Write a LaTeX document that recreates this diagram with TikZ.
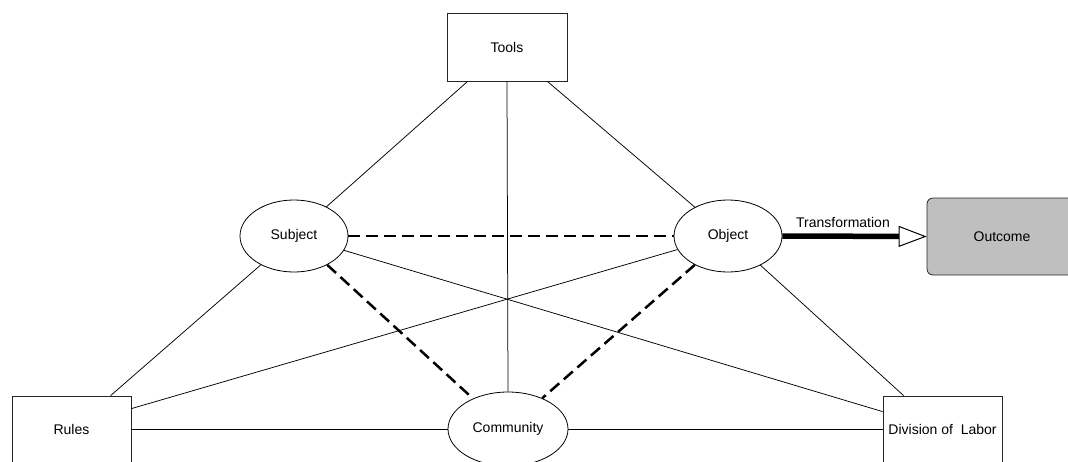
\documentclass[tikz,border=0pt]{standalone}
\usepackage{fontspec}
\setmainfont{Liberation Sans}
\usetikzlibrary{shapes.geometric,arrows.meta,calc}
\begin{document}
\begin{tikzpicture}[x=1pt,y=-1pt,
  every node/.style={font=\fontsize{14}{16}\selectfont, inner sep=0pt},
  boxnode/.style={draw=black!85, line width=0.8pt, rectangle},
  ellnode/.style={draw=black, line width=0.8pt, ellipse},
  thin link/.style={draw=black, line width=0.75pt},
  dash link/.style={draw=black, line width=2.5pt, dash pattern=on 12pt off 6pt}
]
\useasboundingbox (0,0) rectangle (1068,461);
\clip (0,0) rectangle (1068,461);
\fill[white] (0,0) rectangle (1068,461);

% nodes
\node[boxnode, minimum width=120pt, minimum height=68pt] (tools) at (507,47) {Tools};
\node[ellnode, minimum width=108pt, minimum height=72pt] (subject) at (294,236) {Subject};
\node[ellnode, minimum width=108pt, minimum height=72pt] (object) at (728,236) {Object};
\node[ellnode, minimum width=120pt, minimum height=74pt] (community) at (508,429) {Community};
\node[boxnode, minimum width=119pt, minimum height=66pt] (rules) at (71.5,429) {Rules};
\node[boxnode, minimum width=119pt, minimum height=66pt] (div) at (942.5,429) {Division of\ \ Labor};
\node[boxnode, rounded corners=6pt, fill=black!25, minimum width=150pt, minimum height=77pt] (outcome) at (1002,236.5) {Outcome};
\node (translabel) at (843,222.5) {Transformation};

% thin connectors
\draw[thin link] ($(tools.south west)+(21,0)$) -- (subject.42);
\draw[thin link] (tools.south) -- (community.north);
\draw[thin link] ($(tools.south east)+(-20,0)$) -- (object.139);
\draw[thin link] (subject.221) -- ($(rules.north west)+(99,0)$);
\draw[thin link] (subject.-16) -- ($(div.north west)+(0,16)$);
\draw[thin link] (object.195) -- ($(rules.north east)+(0,13)$);
\draw[thin link] (object.-42) -- ($(div.north west)+(21,0)$);
\draw[thin link] (rules.east) -- (community.west);
\draw[thin link] (community.east) -- (div.west);

% dashed connectors
\draw[dash link] (subject.east) -- (object.west);
\draw[dash link] (subject.-41) -- (community.139);
\draw[dash link] (object.221) -- (community.42);

% transformation arrow
\draw[line width=5.5pt, -{Triangle[open, length=28pt, width=21pt, line width=1pt]}]
  (object.east) -- (outcome.west);
\end{tikzpicture}
\end{document}
